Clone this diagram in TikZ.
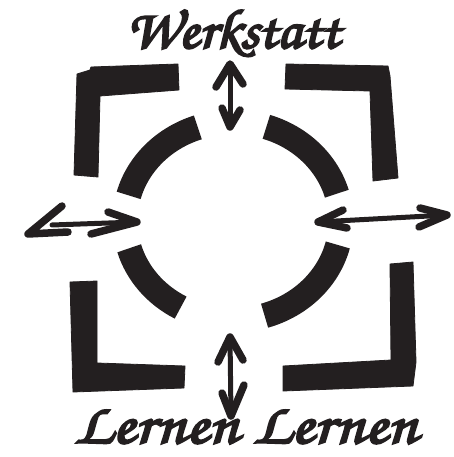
\documentclass[tikz,border=0pt]{standalone}
\usepackage{fontspec}
\newfontfamily\handfont[FakeBold=3.5]{texgyrechorus-mediumitalic.otf}
\definecolor{ink}{RGB}{35,31,32}
\tikzset{
  bracketshape/.style={fill=ink, draw=ink, line width=0.8pt, line join=round},
  ring/.style={draw=ink, line width=25pt},
  shaft/.style={draw=ink, line width=5pt, line cap=round, line join=round},
  headstroke/.style={draw=ink, line width=7.5pt, line cap=round, line join=round},
  label/.style={anchor=base, inner sep=0pt, text=ink}
}
\begin{document}
\begin{tikzpicture}[x=1pt,y=-1pt]
\useasboundingbox (0,0) rectangle (454,457);

% corner brackets
\path[bracketshape] (77,74) -- (90,70) -- (91,67) -- (178,64) -- (179,90) -- (100,96) -- (98,177) -- (74,175) -- cycle;
\path[bracketshape] (286,64) -- (388,66) -- (390,76) -- (398,178) -- (373,181) -- (370,91) -- (285,89) -- cycle;
\path[bracketshape] (70,282) -- (97,281) -- (97,363) -- (185,366) -- (184,388) -- (73,392) -- cycle;
\path[bracketshape] (390,264) -- (413,262) -- (416,362) -- (413,386) -- (283,391) -- (283,366) -- (391,360) -- cycle;

% broken ring
\coordinate (c) at (233,221);
\draw[ring] (c) ++(-109:108 and 99) arc[start angle=-109, end angle=-165, x radius=108, y radius=99];
\draw[ring] (c) ++(-72:108 and 99) arc[start angle=-72, end angle=-16, x radius=108, y radius=99];
\draw[ring] (c) ++(-196:108 and 99) arc[start angle=-196, end angle=-241, x radius=108, y radius=99];
\draw[ring] (c) ++(-346:108 and 99) arc[start angle=-346, end angle=-287, x radius=108, y radius=99];

% top double arrow
\coordinate (t1) at (230,64);
\coordinate (t2) at (230,127);
\draw[shaft] (t1) -- (t2);
\draw[headstroke] (216,87) -- (t1) -- (243,84);
\draw[headstroke] (222,108) -- (t2) -- (240,110);

% bottom double arrow
\coordinate (b1) at (230,337);
\coordinate (b2) at (231,416);
\draw[shaft] (b1) -- (b2);
\draw[headstroke] (218,362) -- (b1) -- (243,360);
\draw[headstroke] (222,393) -- (b2) -- (244,385);

% left double arrow
\coordinate (l1) at (28,234);
\coordinate (l2) at (137,222);
\draw[headstroke] (62,206) -- (l1) -- (68,232);
\draw[shaft] (52,225) -- (l2);
\draw[headstroke] (108,212) -- (l2) -- (91,234);

% right double arrow
\coordinate (r1) at (318,222);
\coordinate (r2) at (447,215);
\draw[shaft] (r1) -- (r2);
\draw[headstroke] (343,210) -- (r1) -- (347,228);
\draw[headstroke] (420,208) -- (r2) -- (419,227);

% labels
\node[label] (werk) at (233,48) {\resizebox{213pt}{38pt}{\handfont Werkstatt}};
\node[label] (lern) at (246,443) {\resizebox{343pt}{33pt}{\handfont Lernen Lernen}};
\end{tikzpicture}
\end{document}
